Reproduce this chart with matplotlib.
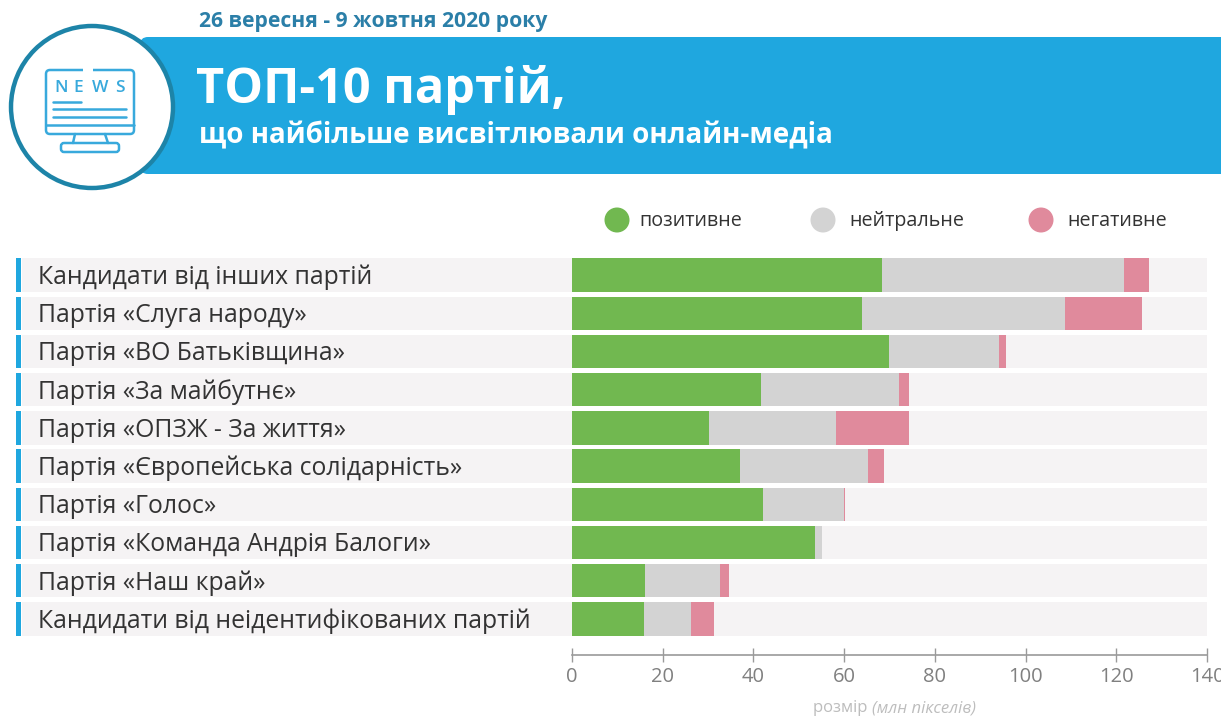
import matplotlib
matplotlib.use("Agg")
import matplotlib.pyplot as plt
from matplotlib.patches import Circle, FancyBboxPatch, Rectangle

plt.rcParams['font.family'] = ['Open Sans', 'DejaVu Sans']

labels = ["Кандидати від інших партій", "Партія «Слуга народу»", "Партія «ВО Батьківщина»",
          "Партія «За майбутнє»", "Партія «ОПЗЖ - За життя»", "Партія «Європейська солідарність»",
          "Партія «Голос»", "Партія «Команда Андрія Балоги»", "Партія «Наш край»",
          "Кандидати від неідентифікованих партій"]
positive = [68.3, 63.9, 69.8, 41.7, 30.3, 37.0, 42.2, 53.6, 16.1, 15.8]
neutral = [53.3, 44.8, 24.3, 30.5, 28.0, 28.2, 17.8, 1.6, 16.6, 10.4]
negative = [5.7, 17.0, 1.5, 2.2, 16.0, 3.5, 0.2, 0.0, 2.0, 5.1]
ticks = [0, 20, 40, 60, 80, 100, 120, 140]
legend_names = ["позитивне", "нейтральне", "негативне"]

GREEN = "#71b850"
GRAY = "#d3d3d3"
PINK = "#e08a9c"
ROW_BG = "#f5f3f4"
BLUE = "#1fa7df"
DARK = "#1d84a8"

W, H = 1221, 718
fig = plt.figure(figsize=(W / 100, H / 100), dpi=100, facecolor="white")

# main chart, placed by pixels
x0, x1, y_top, y_bot = 572, 1207, 254, 655
ax = fig.add_axes([x0 / W, 1 - y_bot / H, (x1 - x0) / W, (y_bot - y_top) / H])
ax.set_xlim(0, 140)
ax.set_ylim((y_bot - 275) / 38.22, (y_top - 275) / 38.22)
ax.patch.set_alpha(0)
unit = (x1 - x0) / 140


def to_x(px):
    return (px - x0) / unit


def to_y(py):
    return (py - 275) / 38.22


rows = list(range(len(labels)))
h = 0.87
ax.barh(rows, 140 - to_x(22), left=to_x(22), height=h, color=ROW_BG, clip_on=False)
ax.barh(rows, to_x(21) - to_x(16), left=to_x(16), height=h, color=BLUE, clip_on=False)
left = [0] * len(rows)
for vals, col in zip([positive, neutral, negative], [GREEN, GRAY, PINK]):
    ax.barh(rows, vals, left=left, height=h, color=col)
    left = [a + b for a, b in zip(left, vals)]
for i, lab in enumerate(labels):
    ax.text(to_x(38.5), i + 0.06, lab, fontsize=17.85, color="#333333", va="center", ha="left")

for s in ["top", "left", "right"]:
    ax.spines[s].set_visible(False)
ax.spines["bottom"].set_color("#9a9a9a")
ax.spines["bottom"].set_linewidth(1.2)
ax.set_yticks([])
ax.set_xticks(ticks)
ax.tick_params(axis="x", direction="inout", length=10, width=1, color="#9a9a9a",
               labelcolor="#808080", labelsize=14.5, pad=4)
ax.text(to_x(872), to_y(708), "розмір ", fontsize=12, color="#bdbdbd", ha="right", va="center")
ax.text(to_x(872), to_y(708), "(млн пікселів)", fontsize=12, color="#bdbdbd", ha="left", va="center",
        style="italic")

# header and legend, in pixel coordinates
top = fig.add_axes([0, 0, 1, 1], facecolor="none")
top.set_xlim(0, W)
top.set_ylim(H, 0)
top.axis("off")

top.add_patch(FancyBboxPatch((140, 37), 1100, 137, boxstyle="round,pad=0,rounding_size=8",
                             facecolor=BLUE, edgecolor="none"))
top.add_patch(Circle((92, 107), 81, facecolor="white", edgecolor=DARK, linewidth=3.2))

# monitor icon
ic = dict(color="#38a9dc", lw=1.8, solid_capstyle="round")
top.add_patch(FancyBboxPatch((46, 70), 88, 64, boxstyle="round,pad=0,rounding_size=4",
                             facecolor="none", edgecolor="#38a9dc", linewidth=1.8))
top.add_patch(Rectangle((83, 67), 10, 6, facecolor="white", edgecolor="none", zorder=3))
top.plot([46, 134], [125, 125], **ic)
top.plot([53, 81], [102, 102], **ic)
top.plot([53, 126], [109, 109], **ic)
top.plot([53, 126], [117, 117], **ic)
top.plot([75, 73], [134, 143], **ic)
top.plot([105, 108], [134, 143], **ic)
top.add_patch(FancyBboxPatch((61, 143), 58, 9, boxstyle="round,pad=0,rounding_size=3",
                             facecolor="none", edgecolor="#38a9dc", linewidth=1.8))
for px, ch in zip([61, 78, 100, 120], "NEWS"):
    top.text(px, 88, ch, fontsize=12.5, color="#38a9dc", fontweight="semibold", ha="center", va="center")

top.text(199, 22, "26 вересня - 9 жовтня 2020 року", fontsize=15.2, fontweight="bold",
         color="#2b7fa8", va="center", ha="left")
top.text(196, 90, "ТОП-10 партій,", fontsize=35, fontweight="bold", color="white", va="center", ha="left")
top.text(199, 136, "що найбільше висвітлювали онлайн-медіа", fontsize=19.95, fontweight="bold",
         color="white", va="center", ha="left")

for cx, tx, col, name in zip([617, 823, 1041], [639, 849, 1067], [GREEN, GRAY, PINK], legend_names):
    top.add_patch(Circle((cx, 220), 12.5, facecolor=col, edgecolor="none"))
    top.text(tx, 221, name, fontsize=14.2, color="#333333", va="center", ha="left")

fig.savefig("out.png", dpi=100)
